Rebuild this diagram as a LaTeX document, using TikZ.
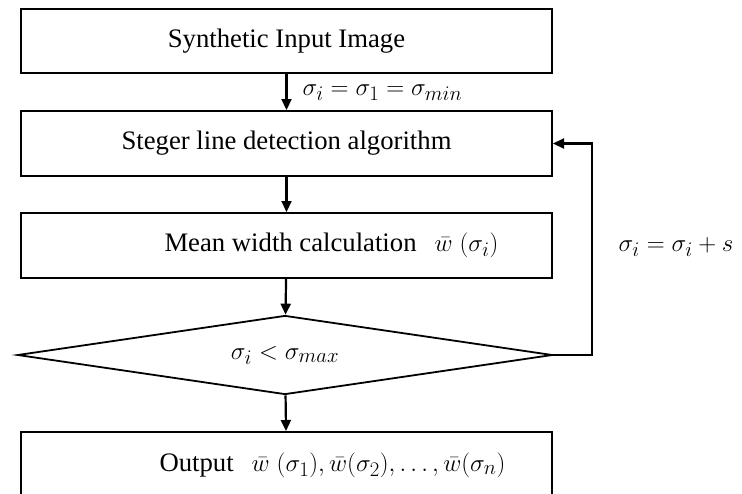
\documentclass[tikz,border=0pt]{standalone}
\usepackage{fontspec}
\setmainfont{Liberation Serif}
\usetikzlibrary{shapes.geometric,arrows.meta}
\newcommand{\mymath}[1]{{\fontsize{28.5}{34}\selectfont$#1$}}
\begin{document}
\begin{tikzpicture}[x=1pt,y=1pt,
  txt/.style={font=\fontsize{26.7}{32}\selectfont},
  box/.style={txt,draw,line width=2pt,minimum width=531pt,minimum height=64pt,inner sep=0pt},
  dec/.style={txt,draw,diamond,line width=1.8pt,minimum width=535pt,minimum height=79pt,inner sep=0pt,aspect=6.77},
  arr/.style={line width=2.2pt,-{Triangle[length=11pt,width=10pt]}}]
\useasboundingbox[fill=white] (0,0) rectangle (742,-493);
\node[box] (b1) at (286.5,-41) {Synthetic Input Image};
\node[box,minimum height=65pt] (b2) at (286.5,-143.5) {Steger line detection algorithm};
\node[box,minimum height=65pt] (b3) at (286.5,-245.5) {\hspace{90pt}Mean width calculation\hspace{18pt}\mymath{\bar{w}\;(\sigma_i)}};
\node[dec] (d) at (285,-355) {\mymath{\sigma_i < \sigma_{max}}};
\node[box,minimum height=66pt] (b4) at (286.5,-465) {\hspace{92pt}Output\hspace{18pt}\mymath{\bar{w}\;(\sigma_1),\bar{w}(\sigma_2),\ldots,\bar{w}(\sigma_n)}};
\node[txt,anchor=west] (l1) at (299,-93) {\mymath{\sigma_i = \sigma_1 = \sigma_{min}}};
\node[txt] (l2) at (676,-247) {\mymath{\sigma_i = \sigma_i + s}};
\coordinate (lp) at (592,-355);
\draw[arr] (b1) -- (b2);
\draw[arr] (b2) -- (b3);
\draw[arr] (b3) -- (d);
\draw[arr] (d) -- (b4);
\draw[arr] (d.east) -- (lp) |- (b2.east);
\end{tikzpicture}
\end{document}
